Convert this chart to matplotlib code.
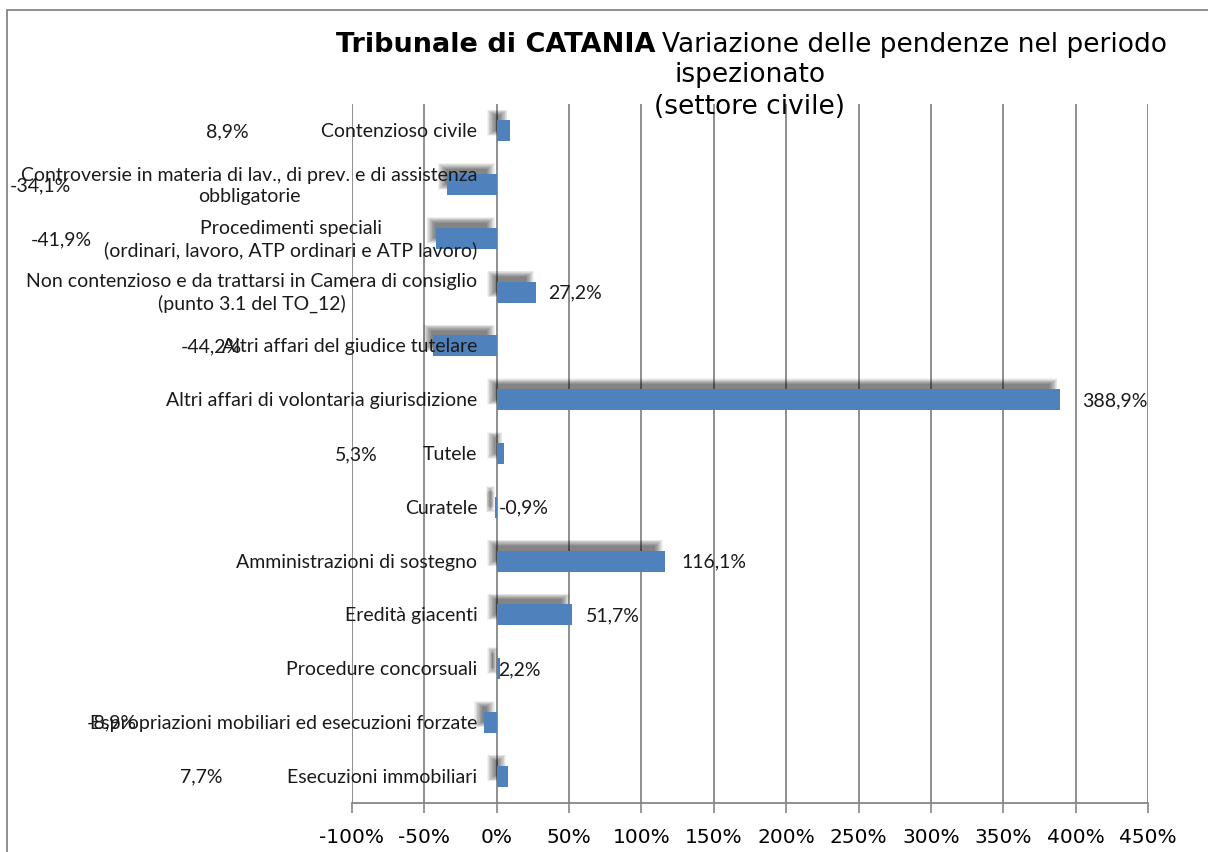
import matplotlib.pyplot as plt
import numpy as np

categories = [
    "Contenzioso civile",
    "Controversie in materia di lav., di prev. e di assistenza\nobbligatorie",
    "Procedimenti speciali\n(ordinari, lavoro, ATP ordinari e ATP lavoro)",
    "Non contenzioso e da trattarsi in Camera di consiglio\n(punto 3.1 del TO_12)",
    "Altri affari del giudice tutelare",
    "Altri affari di volontaria giurisdizione",
    "Tutele",
    "Curatele",
    "Amministrazioni di sostegno",
    "Eredità giacenti",
    "Procedure concorsuali",
    "Espropriazioni mobiliari ed esecuzioni forzate",
    "Esecuzioni immobiliari",
]
values = [8.9, -34.1, -41.9, 27.2, -44.2, 388.9, 5.3, -0.9, 116.1, 51.7, 2.2, -8.9, 7.7]
value_labels = ["8,9%", "-34,1%", "-41,9%", "27,2%", "-44,2%", "388,9%", "5,3%",
                "-0,9%", "116,1%", "51,7%", "2,2%", "-8,9%", "7,7%"]
# where Excel left the data labels (x in percent units)
label_x = [-186, -315, -301, 54, -197, 427, -97, 19, 150, 80, 16, -266, -204]
xticks = list(range(-100, 451, 50))

bar_color = "#4F81BD"
grid_color = "#868686"
label_font = ["Lato", "DejaVu Sans"]

fig = plt.figure(figsize=(12.08, 8.53), dpi=100)
W, H = 1208, 853
ax = fig.add_axes([352 / W, 1 - 804 / H, (1148 - 352) / W, (804 - 105) / H])

y = np.arange(len(categories))
bh = 0.39

# soft blurred shadow, offset up-left
n = 12
for k in range(n):
    s = (k - n / 2) / n  # -0.5 .. 0.5
    for i, v in enumerate(values):
        x0, x1 = min(0, v) - 4, max(0, v) - 4
        ax.add_patch(plt.Rectangle((x0 - s * 6, i - 0.15 - bh / 2 - s * 0.12),
                                   (x1 - x0) + s * 12, bh + s * 0.24,
                                   color="black", alpha=0.05, lw=0, zorder=2))
ax.barh(y, values, height=bh, color=bar_color, linewidth=0, zorder=3)

for i, cat in enumerate(categories):
    ax.annotate(cat, xy=(0, i), xytext=(-14, 0), textcoords="offset points",
                ha="right", va="center", multialignment="center", linespacing=1.3,
                fontsize=14, family=label_font, color="#1a1a1a", zorder=4,
                annotation_clip=False)
    ax.text(label_x[i], i, value_labels[i], ha="center", va="center",
            fontsize=14, family=label_font, color="#1a1a1a", clip_on=False, zorder=4)

ax.set_xlim(-100, 450)
ax.set_ylim(len(categories) - 0.5, -0.5)
ax.set_xticks(xticks)
ax.set_xticklabels([f"{t}%" for t in xticks], fontsize=14.5)
ax.set_yticks([])
ax.tick_params(axis="x", length=7, width=1.2, color=grid_color, pad=10)
for t in xticks:
    ax.axvline(t, color=grid_color, lw=1.3, zorder=1)
for side in ["left", "right", "top"]:
    ax.spines[side].set_visible(False)
ax.spines["bottom"].set_color(grid_color)
ax.spines["bottom"].set_linewidth(1.3)

# title
fig.text(656 / W, 1 - 45 / H, "Tribunale di CATANIA", ha="right", va="center",
         fontsize=19.5, fontweight="bold")
fig.text(662 / W, 1 - 45 / H, "Variazione delle pendenze nel periodo", ha="left",
         va="center", fontsize=19)
fig.text(750 / W, 1 - 75 / H, "ispezionato", ha="center", va="center", fontsize=19)
fig.text(750 / W, 1 - 107 / H, "(settore civile)", ha="center", va="center", fontsize=19)

# chart border
fig.add_artist(plt.Rectangle((7 / W, -0.1), 1.2, 1 - 11 / H + 0.1,
                             transform=fig.transFigure, fill=False,
                             edgecolor=grid_color, lw=1.3))

fig.savefig("out.png", dpi=100)
